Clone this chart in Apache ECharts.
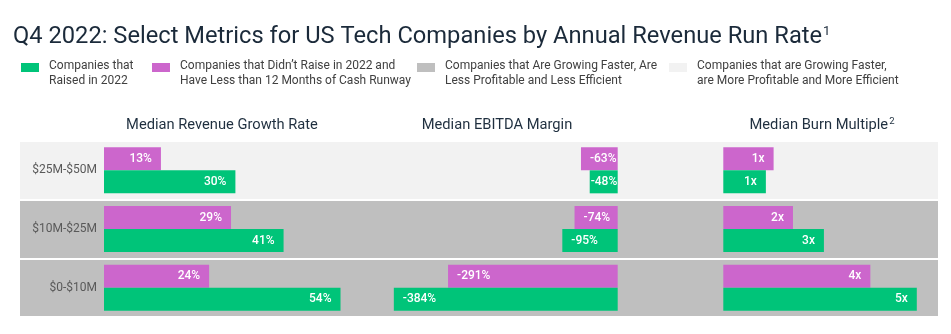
<!DOCTYPE html>
<html><head><meta charset="utf-8">
<script src="https://cdn.jsdelivr.net/npm/echarts@6/dist/echarts.min.js"></script>
<style>html,body{margin:0;padding:0;background:#fff}#c{width:951px;height:334px}</style>
</head><body><div id="c"></div>
<script>
const categories = ['$25M-$50M', '$10M-$25M', '$0-$10M'];
const legendNames = [
  'Companies that\nRaised in 2022',
  'Companies that Didn\u2019t Raise in 2022 and\nHave Less than 12 Months of Cash Runway',
  'Companies that Are Growing Faster, Are\nLess Profitable and Less Efficient',
  'Companies that are Growing Faster,\nare More Profitable and More Efficient'
];
const panelTitles = ['Median Revenue Growth Rate', 'Median EBITDA Margin', 'Median Burn Multiple'];
const revenueRaised = [30, 41, 54];
const revenueNotRaised = [13, 29, 24];
const ebitdaRaised = [-48, -95, -384];
const ebitdaNotRaised = [-63, -74, -291];
const burnRaised = [1.1, 2.6, 5.0];
const burnNotRaised = [1.3, 1.8, 3.8];

const GREEN = '#00c479', PURPLE = '#cc66cc', GRAY = '#bfbfbf', LIGHT = '#f2f2f2';
const FONT = 'Roboto';
const chart = echarts.init(document.getElementById('c'), null, {renderer: 'canvas'});

const TOP = 141, H = 176;
const legendIcon = 'path://M0,0h18v9h-18zM23,20h0.01';
const legendLefts = [21, 152, 417, 669];
const legendColors = [GREEN, PURPLE, GRAY, LIGHT];

function barLabel(pos, fmt) {
  return {show: true, position: pos, distance: 9, color: '#fff', fontSize: 12, fontWeight: 500, fontFamily: FONT, formatter: fmt};
}
const pct = p => p.value + '%';
const mult = p => Math.round(p.value) + 'x';
// narrow bars: the label hugs the bar start
const withNarrow = arr => arr.map(v => Math.abs(v) < 55 ? {value: v, label: {distance: 1}} : v);

function pair(gi, nr, r, pos, fmt) {
  return [
    {type: 'bar', name: legendNames[1], xAxisIndex: gi, yAxisIndex: gi, data: nr, barWidth: 23, barGap: '0%', clip: false,
     itemStyle: {color: PURPLE}, label: barLabel(pos, fmt), silent: true},
    {type: 'bar', name: legendNames[0], xAxisIndex: gi, yAxisIndex: gi, data: r, barWidth: 23, barGap: '0%', clip: false,
     itemStyle: {color: GREEN}, label: barLabel(pos, fmt), silent: true}
  ];
}

const titleStyle = {textAlign: 'center', textVerticalAlign: 'middle', fontSize: 14.7, fontFamily: FONT, fill: '#1f2f3f'};

const option = {
  animation: false,
  textStyle: {fontFamily: FONT},
  title: [{
    text: 'Q4 2022: Select Metrics for US Tech Companies by Annual Revenue Run Rate{sup|1}',
    left: 13, top: 25, padding: 0,
    textStyle: {fontSize: 23.7, fontWeight: 'normal', color: '#1b2a3a', fontFamily: FONT,
      rich: {sup: {fontSize: 13, color: '#1b2a3a', verticalAlign: 'top', padding: [0, 0, 10, 1], fontFamily: FONT}}}
  }],
  legend: legendNames.map((n, i) => ({
    data: [n], left: legendLefts[i], top: 58, padding: 0, icon: legendIcon, itemWidth: 23, itemHeight: 20,
    selectedMode: false, textStyle: {fontSize: 12, color: '#404040', lineHeight: 15, fontFamily: FONT}
  })),
  graphic: [
    {type: 'text', x: 222, y: 125, style: Object.assign({text: panelTitles[0]}, titleStyle)},
    {type: 'text', x: 497, y: 125, style: Object.assign({text: panelTitles[1]}, titleStyle)},
    {type: 'text', x: 822, y: 125, style: Object.assign({text: panelTitles[2] + '{sup|2}',
      rich: {sup: {fontSize: 9.5, verticalAlign: 'top', padding: [0, 0, 6, 1], fill: '#1f2f3f', fontFamily: FONT}}}, titleStyle)}
  ],
  grid: [
    {left: 20, width: 918, top: TOP, height: H},
    {left: 104, width: 262.8, top: TOP, height: H},
    {left: 384.5, width: 233.2, top: TOP, height: H},
    {left: 723.3, width: 193.5, top: TOP, height: H}
  ],
  xAxis: [
    {gridIndex: 0, type: 'value', show: false, min: 0, max: 1},
    {gridIndex: 1, type: 'value', show: false, min: 0, max: 60},
    {gridIndex: 2, type: 'value', show: false, min: -400, max: 0},
    {gridIndex: 3, type: 'value', show: false, min: 0, max: 5}
  ],
  yAxis: [
    {gridIndex: 0, type: 'category', data: categories, inverse: true,
     axisLine: {show: false}, axisTick: {show: false}, axisLabel: {show: false},
     splitArea: {show: true, areaStyle: {color: [LIGHT, GRAY, GRAY]}},
     splitLine: {show: true, lineStyle: {color: '#ffffff', width: 2}}},
    {gridIndex: 1, type: 'category', data: categories, inverse: true,
     axisLine: {show: false}, axisTick: {show: false}, splitLine: {show: false},
     axisLabel: {margin: 7, color: '#595959', fontSize: 12, fontFamily: FONT}},
    {gridIndex: 2, type: 'category', data: categories, inverse: true, show: false},
    {gridIndex: 3, type: 'category', data: categories, inverse: true, show: false}
  ],
  series: [
    {type: 'bar', name: legendNames[2], xAxisIndex: 0, yAxisIndex: 0, data: [], itemStyle: {color: GRAY}},
    {type: 'bar', name: legendNames[3], xAxisIndex: 0, yAxisIndex: 0, data: [], itemStyle: {color: LIGHT}},
    ...pair(1, revenueNotRaised, revenueRaised, 'insideRight', pct),
    ...pair(2, ebitdaNotRaised, withNarrow(ebitdaRaised), 'insideLeft', pct),
    ...pair(3, burnNotRaised, burnRaised, 'insideRight', mult)
  ]
};
chart.setOption(option);
</script></body></html>
